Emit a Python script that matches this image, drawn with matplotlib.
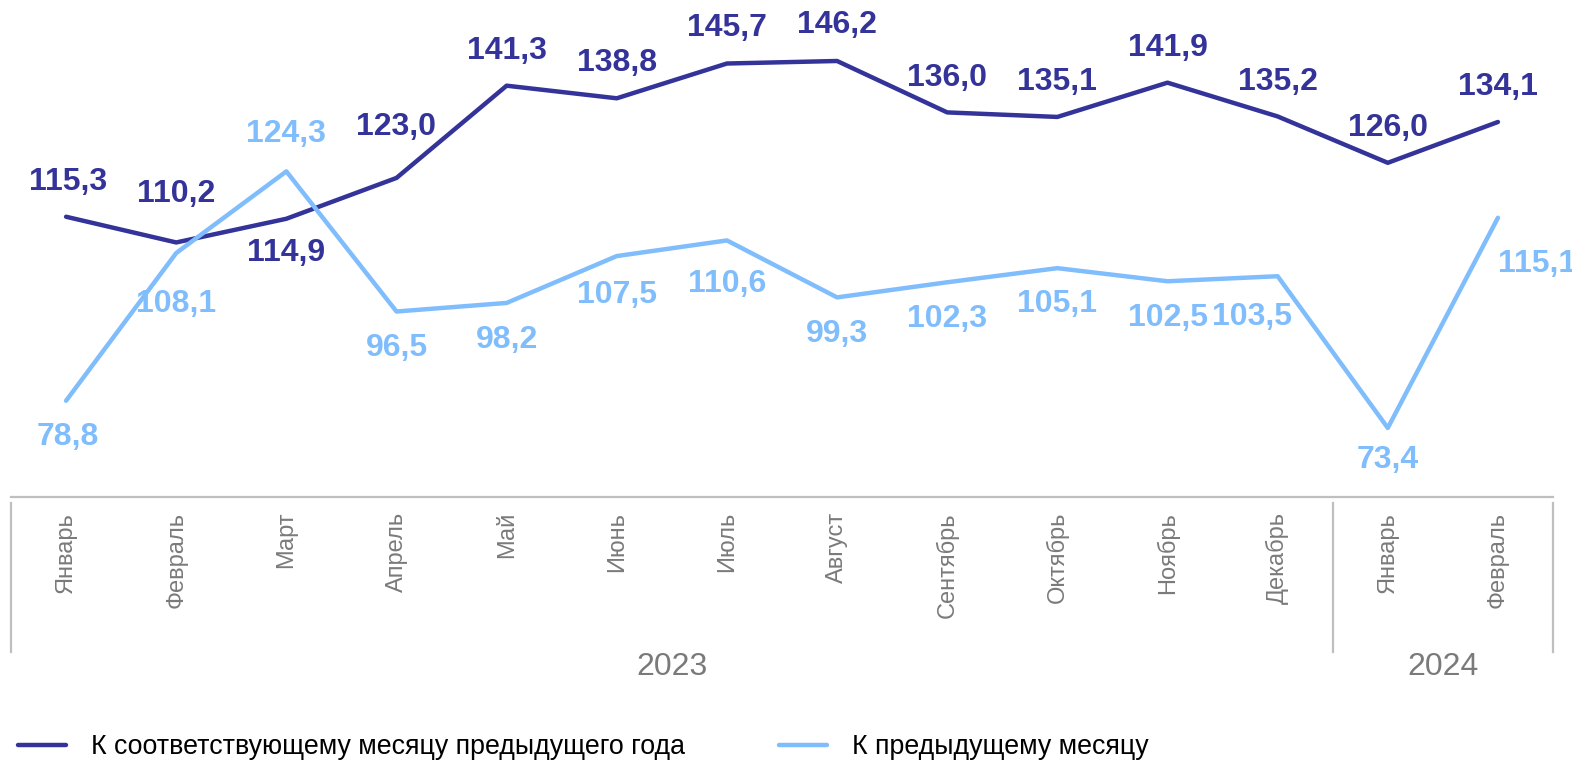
# Индексы: к соответствующему месяцу предыдущего года и к предыдущему месяцу
import numpy as np
import matplotlib.pyplot as plt
import matplotlib.transforms as mtransforms

plt.rcParams['font.family'] = ['Liberation Sans', 'DejaVu Sans']

# --- 1. Data ---
months = ['Январь', 'Февраль', 'Март', 'Апрель', 'Май', 'Июнь', 'Июль', 'Август',
          'Сентябрь', 'Октябрь', 'Ноябрь', 'Декабрь', 'Январь', 'Февраль']
years = ['2023', '2024']
year_counts = [12, 2]
yoy = [115.3, 110.2, 114.9, 123.0, 141.3, 138.8, 145.7, 146.2,
       136.0, 135.1, 141.9, 135.2, 126.0, 134.1]
mom = [78.8, 108.1, 124.3, 96.5, 98.2, 107.5, 110.6, 99.3,
       102.3, 105.1, 102.5, 103.5, 73.4, 115.1]
series_names = ['К соответствующему месяцу предыдущего года', 'К предыдущему месяцу']

# label offsets in pixels (styling only)
yoy_off = [(2, 35), (0, 48), (0, -34), (0, 51), (0, 35), (0, 35), (0, 36), (0, 36),
           (0, 34), (0, 35), (0, 35), (0, 34), (0, 35), (0, 35)]
mom_off = [(2, -36), (0, -51), (0, 37), (0, -36), (0, -37), (0, -39), (0, -44), (0, -37),
           (0, -37), (0, -36), (0, -37), (-26, -41), (0, -32), (39, -46)]

dark = '#333399'
light = '#80bdfd'
grey = '#7a7a7a'
axis_grey = '#bfbfbf'

# --- 2. Figure ---
fig = plt.figure(figsize=(15.72, 7.63), dpi=100)
ax = fig.add_axes([11 / 1572, 1 - 497 / 763, 1542 / 1572, 497 / 763])

x = np.arange(len(months))
ax.plot(x, yoy, color=dark, lw=3.2, solid_capstyle='round', solid_joinstyle='round',
        label=series_names[0])
ax.plot(x, mom, color=light, lw=3.2, solid_capstyle='round', solid_joinstyle='round',
        label=series_names[1])

for xi, v, off in zip(x, yoy, yoy_off):
    ax.annotate(f'{v:.1f}'.replace('.', ','), (xi, v), xytext=off, textcoords='offset pixels',
                ha='center', va='center', fontsize=23, fontweight='bold', color=dark,
                annotation_clip=False)
for xi, v, off in zip(x, mom, mom_off):
    ax.annotate(f'{v:.1f}'.replace('.', ','), (xi, v), xytext=off, textcoords='offset pixels',
                ha='center', va='center', fontsize=23, fontweight='bold', color=light,
                annotation_clip=False)

ax.set_xlim(-0.5, len(months) - 0.5)
ax.set_ylim(59.7, 158.3)
for s in ['top', 'right', 'left']:
    ax.spines[s].set_visible(False)
ax.spines['bottom'].set_color(axis_grey)
ax.spines['bottom'].set_linewidth(1.6)
ax.set_xticks([])
ax.set_yticks([])

# --- 3. Two-level category axis ---
trans = mtransforms.blended_transform_factory(ax.transData, ax.transAxes)
for xi, m in zip(x, months):
    ax.text(xi, -15 / 497, m, rotation=90, ha='center', va='top', fontsize=17,
            color=grey, transform=trans)

start = 0
bounds = [-0.5]
for yr, n in zip(years, year_counts):
    ax.text(start + (n - 1) / 2, -170 / 497, yr, ha='center', va='center', fontsize=23,
            color=grey, transform=trans)
    start += n
    bounds.append(start - 0.5)
for b in bounds:
    ax.plot([b, b], [-6 / 497, -155 / 497], color=axis_grey, lw=1.6,
            transform=trans, clip_on=False)

# --- 4. Legend ---
fig.legend(loc='center left', bbox_to_anchor=(18 / 1572, 1 - 747 / 763), ncol=2,
           frameon=False, fontsize=19.3, handlelength=1.78, handletextpad=0.95,
           columnspacing=3.5, borderpad=0, borderaxespad=0)

fig.savefig('out.png', dpi=100)
